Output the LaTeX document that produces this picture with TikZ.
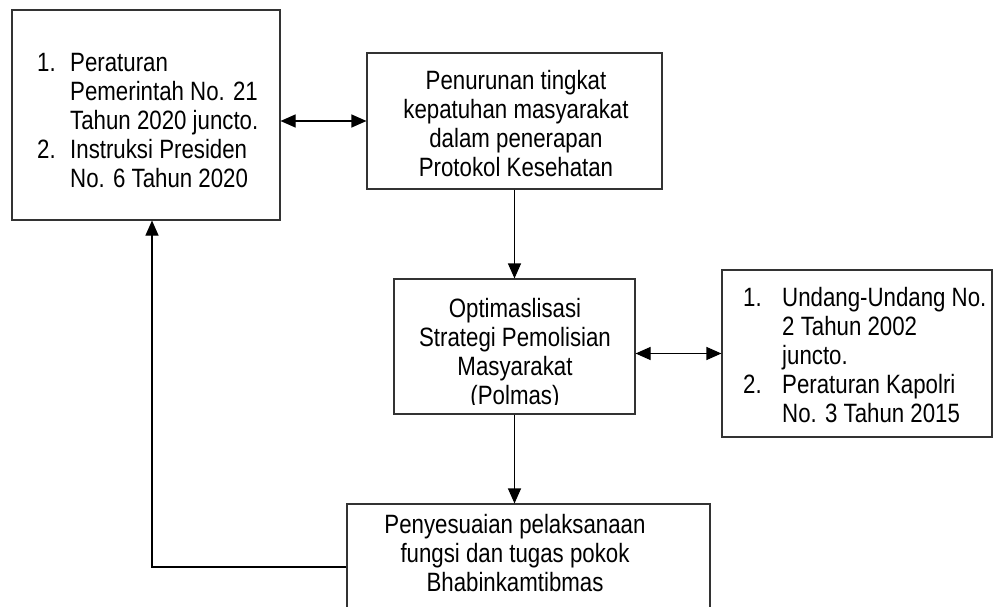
\documentclass[tikz,border=0pt]{standalone}
\usepackage{fontspec}
\setmainfont{Liberation Sans}[FakeStretch=0.84]
\usetikzlibrary{arrows.meta}
\newcommand{\tstrut}{\rule{0pt}{21pt}}
\newcommand{\itm}[2][33pt]{\makebox[#1][l]{#2}}
\newcommand{\ind}[1][33pt]{\hspace*{#1}}
\begin{document}
\begin{tikzpicture}[x=1pt,y=-1pt,>={Triangle[length=15pt,width=13pt]},
        box/.style={draw=black!80,line width=1.1pt,inner sep=0pt},
        txt/.style={inner sep=0pt,font=\fontsize{26.5}{29}\selectfont},
        conn/.style={line width=1.1pt,->}]
        \useasboundingbox (0,0) rectangle (993,607);
        \node[box,minimum width=268pt,minimum height=210pt] (peraturan) at (146,115) {};
        \node[box,minimum width=295pt,minimum height=136pt] (penurunan) at (514.5,121) {};
        \node[box,minimum width=241pt,minimum height=135pt] (polmas) at (514.5,346.5) {};
        \node[box,minimum width=270pt,minimum height=167pt] (uu) at (857,353.5) {};
        \node[box,minimum width=363pt,minimum height=126pt] (bhabin) at (528.5,567) {};
        \node[txt,anchor=north west,align=left] (peraturantxt) at (37,50)
         {\tstrut\itm{1.}Peraturan\\\ind Pemerintah No. 21\\\ind Tahun 2020 juncto.\\
          \itm{2.}Instruksi Presiden\\\ind No. 6 Tahun 2020};
        \node[txt,anchor=north,align=center] (penurunantxt) at (516,68)
         {\tstrut Penurunan tingkat\\kepatuhan masyarakat\\dalam penerapan\\Protokol Kesehatan};
        \begin{scope}
         \clip (394,279) rectangle (635,404);
         \node[txt,anchor=north,align=center] (polmastxt) at (515,296)
          {\tstrut Optimaslisasi\\Strategi Pemolisian\\Masyarakat\\(Polmas)};
        \end{scope}
        \node[txt,anchor=north west,align=left] (uutxt) at (743,285)
         {\tstrut\itm[39pt]{1.}Undang-Undang No.\\\ind[39pt]2 Tahun 2002\\\ind[39pt]juncto.\\
          \itm[39pt]{2.}Peraturan Kapolri\\\ind[39pt]No. 3 Tahun 2015};
        \node[txt,anchor=north,align=center] (bhabintxt) at (515,512)
         {\tstrut Penyesuaian pelaksanaan\\fungsi dan tugas pokok\\Bhabinkamtibmas};
        \draw[conn,<->] (peraturan.east |- penurunan.west) -- (penurunan.west);
        \draw[conn] (penurunan.south) -- (polmas.north);
        \draw[conn,<->] (polmas.east |- uu.west) -- (uu.west);
        \draw[conn] (polmas.south) -- (polmas.south |- bhabin.north);
        \draw[conn] (bhabin.west) -| ([xshift=6pt]peraturan.south);
\end{tikzpicture}
\end{document}
